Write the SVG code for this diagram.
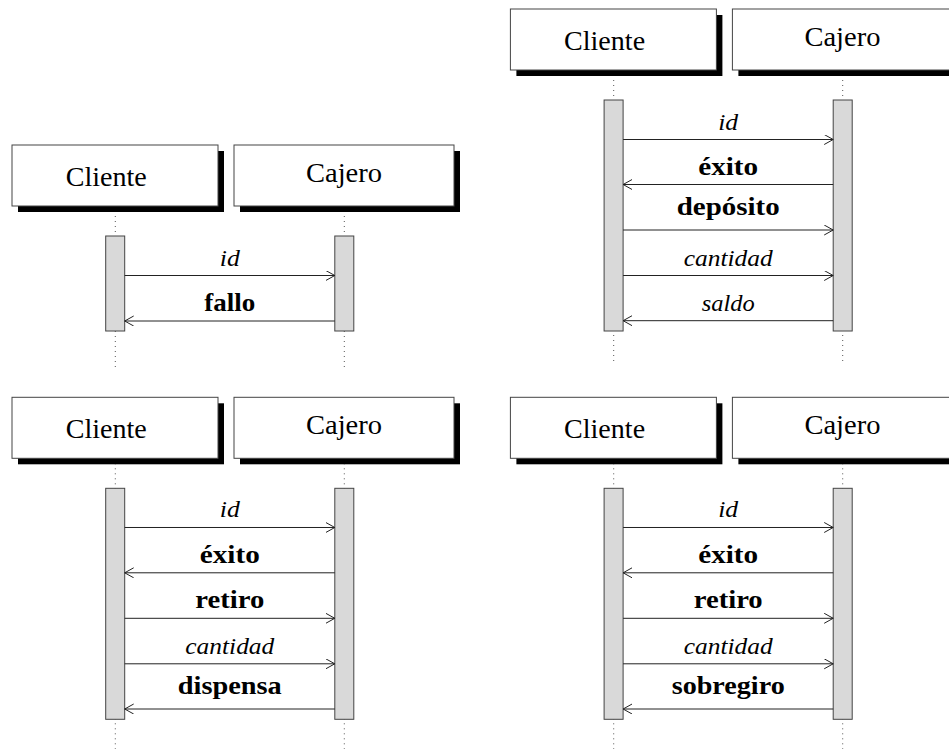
<svg xmlns="http://www.w3.org/2000/svg" width="949" height="749" viewBox="0 0 949 749" font-family="Liberation Serif, DejaVu Serif, serif">
<defs>
<marker id="ah" markerWidth="12" markerHeight="12" refX="9" refY="5" orient="auto" markerUnits="userSpaceOnUse" viewBox="0 0 12 12">
<path d="M0,0 L9,5 L0,10" fill="none" stroke="#222" stroke-width="1"/>
</marker>
</defs>
<style>
.shadow{fill:#000}
.box{fill:#fff;stroke:#444;stroke-width:1}
.hdr{font-size:28px;fill:#000;text-anchor:middle}
.life{stroke:#555;stroke-width:1;stroke-dasharray:1 4;fill:none}
.bar{fill:#d9d9d9;stroke:#444;stroke-width:1}
.msg{stroke:#222;stroke-width:1;fill:none}
.it{font-style:italic;font-size:24px;fill:#000;text-anchor:middle}
.bd{font-weight:bold;font-size:25px;fill:#000;text-anchor:middle}
</style>

<!-- Panel A: top-left -->
<g id="panelA" transform="translate(0,145)">
  <g id="A-cliente">
    <line class="life" x1="115.3" y1="61" x2="115.3" y2="222"/>
    <rect class="shadow" x="18" y="6" width="206" height="61"/>
    <rect class="box" x="12" y="0" width="206" height="61"/>
    <text class="hdr" font-family="Liberation Serif" x="106.2" y="40.7" textLength="81" lengthAdjust="spacingAndGlyphs">Cliente</text>
    <rect class="bar" x="105.7" y="91" width="19" height="95"/>
  </g>
  <g id="A-cajero">
    <line class="life" x1="344.3" y1="61" x2="344.3" y2="222"/>
    <rect class="shadow" x="240" y="6" width="220" height="61"/>
    <rect class="box" x="234" y="0" width="220" height="61"/>
    <text class="hdr" font-family="Liberation Serif" x="344" y="37" textLength="76" lengthAdjust="spacingAndGlyphs">Cajero</text>
    <rect class="bar" x="334.8" y="91" width="19" height="95"/>
  </g>
  <g id="A-connectors">
    <line class="msg" x1="124.7" y1="130.5" x2="334.8" y2="130.5" marker-end="url(#ah)"/>
    <text class="it" x="229.8" y="120.5" textLength="20" lengthAdjust="spacingAndGlyphs">id</text>
    <line class="msg" x1="334.8" y1="176" x2="124.7" y2="176" marker-end="url(#ah)"/>
    <text class="bd" x="229.8" y="166" textLength="51" lengthAdjust="spacingAndGlyphs">fallo</text>
  </g>
</g>

<!-- Panel B: top-right -->
<g id="panelB" transform="translate(498.4,9)">
  <g id="B-cliente">
    <line class="life" x1="115.3" y1="61" x2="115.3" y2="356"/>
    <rect class="shadow" x="18" y="6" width="206" height="61"/>
    <rect class="box" x="12" y="0" width="206" height="61"/>
    <text class="hdr" x="106.2" y="40.7" textLength="81" lengthAdjust="spacingAndGlyphs">Cliente</text>
    <rect class="bar" x="105.7" y="91" width="19" height="231"/>
  </g>
  <g id="B-cajero">
    <line class="life" x1="344.3" y1="61" x2="344.3" y2="356"/>
    <rect class="shadow" x="240" y="6" width="220" height="61"/>
    <rect class="box" x="234" y="0" width="220" height="61"/>
    <text class="hdr" x="344" y="37" textLength="76" lengthAdjust="spacingAndGlyphs">Cajero</text>
    <rect class="bar" x="334.8" y="91" width="19" height="231"/>
  </g>
  <g id="B-connectors">
    <line class="msg" x1="124.7" y1="130.5" x2="334.8" y2="130.5" marker-end="url(#ah)"/>
    <text class="it" x="229.8" y="120.5" textLength="20" lengthAdjust="spacingAndGlyphs">id</text>
    <line class="msg" x1="334.8" y1="175.5" x2="124.7" y2="175.5" marker-end="url(#ah)"/>
    <text class="bd" x="229.8" y="165.5" textLength="60" lengthAdjust="spacingAndGlyphs">éxito</text>
    <line class="msg" x1="124.7" y1="221" x2="334.8" y2="221" marker-end="url(#ah)"/>
    <text class="bd" x="229.8" y="206" textLength="103" lengthAdjust="spacingAndGlyphs">depósito</text>
    <line class="msg" x1="124.7" y1="266.5" x2="334.8" y2="266.5" marker-end="url(#ah)"/>
    <text class="it" x="229.8" y="256.8" textLength="89" lengthAdjust="spacingAndGlyphs">cantidad</text>
    <line class="msg" x1="334.8" y1="311.7" x2="124.7" y2="311.7" marker-end="url(#ah)"/>
    <text class="it" x="229.8" y="301.7" textLength="53" lengthAdjust="spacingAndGlyphs">saldo</text>
  </g>
</g>

<!-- Panel C: bottom-left -->
<g id="panelC" transform="translate(0,397.3)">
  <g id="C-cliente">
    <line class="life" x1="115.3" y1="61" x2="115.3" y2="356"/>
    <rect class="shadow" x="18" y="6" width="206" height="61"/>
    <rect class="box" x="12" y="0" width="206" height="61"/>
    <text class="hdr" x="106.2" y="40.7" textLength="81" lengthAdjust="spacingAndGlyphs">Cliente</text>
    <rect class="bar" x="105.7" y="91" width="19" height="231"/>
  </g>
  <g id="C-cajero">
    <line class="life" x1="344.3" y1="61" x2="344.3" y2="356"/>
    <rect class="shadow" x="240" y="6" width="220" height="61"/>
    <rect class="box" x="234" y="0" width="220" height="61"/>
    <text class="hdr" x="344" y="37" textLength="76" lengthAdjust="spacingAndGlyphs">Cajero</text>
    <rect class="bar" x="334.8" y="91" width="19" height="231"/>
  </g>
  <g id="C-connectors">
    <line class="msg" x1="124.7" y1="130.2" x2="334.8" y2="130.2" marker-end="url(#ah)"/>
    <text class="it" x="229.8" y="120.2" textLength="20" lengthAdjust="spacingAndGlyphs">id</text>
    <line class="msg" x1="334.8" y1="175.5" x2="124.7" y2="175.5" marker-end="url(#ah)"/>
    <text class="bd" x="229.8" y="165.5" textLength="60" lengthAdjust="spacingAndGlyphs">éxito</text>
    <line class="msg" x1="124.7" y1="221" x2="334.8" y2="221" marker-end="url(#ah)"/>
    <text class="bd" x="229.8" y="211" textLength="69" lengthAdjust="spacingAndGlyphs">retiro</text>
    <line class="msg" x1="124.7" y1="266.5" x2="334.8" y2="266.5" marker-end="url(#ah)"/>
    <text class="it" x="229.8" y="256.8" textLength="89" lengthAdjust="spacingAndGlyphs">cantidad</text>
    <line class="msg" x1="334.8" y1="311.7" x2="124.7" y2="311.7" marker-end="url(#ah)"/>
    <text class="bd" x="229.8" y="296.7" textLength="104" lengthAdjust="spacingAndGlyphs">dispensa</text>
  </g>
</g>

<!-- Panel D: bottom-right -->
<g id="panelD" transform="translate(498.4,397.3)">
  <g id="D-cliente">
    <line class="life" x1="115.3" y1="61" x2="115.3" y2="356"/>
    <rect class="shadow" x="18" y="6" width="206" height="61"/>
    <rect class="box" x="12" y="0" width="206" height="61"/>
    <text class="hdr" x="106.2" y="40.7" textLength="81" lengthAdjust="spacingAndGlyphs">Cliente</text>
    <rect class="bar" x="105.7" y="91" width="19" height="231"/>
  </g>
  <g id="D-cajero">
    <line class="life" x1="344.3" y1="61" x2="344.3" y2="356"/>
    <rect class="shadow" x="240" y="6" width="220" height="61"/>
    <rect class="box" x="234" y="0" width="220" height="61"/>
    <text class="hdr" x="344" y="37" textLength="76" lengthAdjust="spacingAndGlyphs">Cajero</text>
    <rect class="bar" x="334.8" y="91" width="19" height="231"/>
  </g>
  <g id="D-connectors">
    <line class="msg" x1="124.7" y1="130.2" x2="334.8" y2="130.2" marker-end="url(#ah)"/>
    <text class="it" x="229.8" y="120.2" textLength="20" lengthAdjust="spacingAndGlyphs">id</text>
    <line class="msg" x1="334.8" y1="175.5" x2="124.7" y2="175.5" marker-end="url(#ah)"/>
    <text class="bd" x="229.8" y="165.5" textLength="60" lengthAdjust="spacingAndGlyphs">éxito</text>
    <line class="msg" x1="124.7" y1="221" x2="334.8" y2="221" marker-end="url(#ah)"/>
    <text class="bd" x="229.8" y="211" textLength="69" lengthAdjust="spacingAndGlyphs">retiro</text>
    <line class="msg" x1="124.7" y1="266.5" x2="334.8" y2="266.5" marker-end="url(#ah)"/>
    <text class="it" x="229.8" y="256.8" textLength="89" lengthAdjust="spacingAndGlyphs">cantidad</text>
    <line class="msg" x1="334.8" y1="311.7" x2="124.7" y2="311.7" marker-end="url(#ah)"/>
    <text class="bd" x="229.8" y="296.7" textLength="113" lengthAdjust="spacingAndGlyphs">sobregiro</text>
  </g>
</g>
</svg>
